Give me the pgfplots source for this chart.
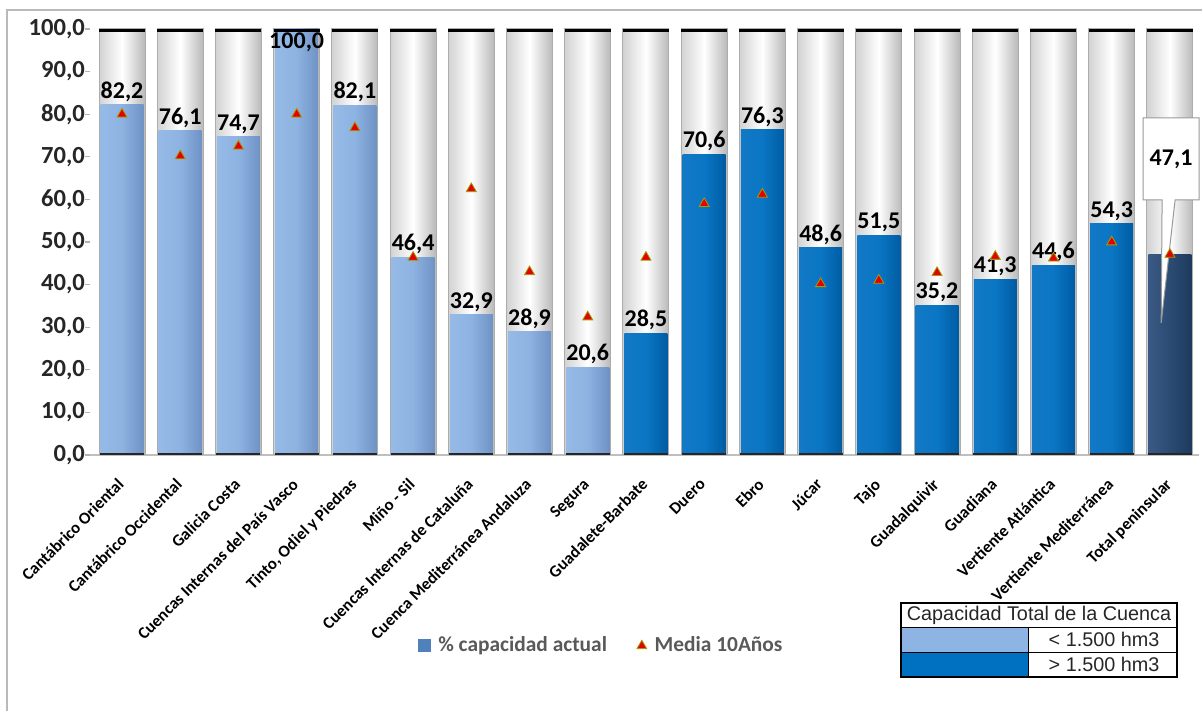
\documentclass[border=0pt]{standalone}
\usepackage{fontspec}
\setmainfont{Carlito}
\newfontfamily\arialf{Liberation Sans}
\usepackage{pgfplots}
\pgfplotsset{compat=1.18}
\usetikzlibrary{shapes.callouts}
\definecolor{lbL}{HTML}{96BAE6}
\definecolor{lbM}{HTML}{8DB3E2}
\definecolor{lbR}{HTML}{6E92C4}
\definecolor{dbL}{HTML}{1279C6}
\definecolor{dbM}{HTML}{0A76C4}
\definecolor{dbR}{HTML}{005CA3}
\definecolor{nvL}{HTML}{3A5A85}
\definecolor{nvM}{HTML}{2C4B73}
\definecolor{nvR}{HTML}{1E3A5E}
\definecolor{legblue}{HTML}{4F81BD}
\definecolor{tablight}{HTML}{8DB4E2}
\definecolor{tabdark}{HTML}{0070C0}
\definecolor{txtgray}{HTML}{595959}
\definecolor{tickc}{HTML}{262626}
\pgfkeys{/pgf/number format/assume math mode=true}
\pgfplotsset{
  lab/.style={nodes near coords={\pgfmathprintnumber[fixed,fixed zerofill,precision=1,use comma]{\pgfplotspointmeta}},
    every node near coord/.append style={font=\bfseries\fontsize{12}{13}\selectfont, text=black, inner sep=1.5pt}},
}
\newcommand{\tube}[1]{\addplot[ybar, bar width=23pt, bar shift=0pt, draw=gray!65, line width=0.5pt,
  left color=gray!35, right color=gray!55, middle color=white, forget plot] coordinates {(#1,100)};}
\newcommand{\vbar}[4]{\addplot[ybar, bar width=21.5pt, bar shift=0pt, draw=none,
  left color=#3L, right color=#3R, middle color=#3M, forget plot, #4] coordinates {(#1,#2)};}
\begin{document}
\begin{tikzpicture}
\path[use as bounding box] (0pt,0pt) rectangle (601pt,355.5pt);
\draw[gray!55, line width=0.8pt] (3.5pt,0pt) -- (3.5pt,350.5pt) -- (601pt,350.5pt);
\begin{axis}[
  at={(45pt,128pt)}, anchor=south west,
  width=554.5pt, height=213pt, scale only axis,
  xmin=-0.55, xmax=18.5, ymin=0, ymax=100,
  axis lines*=left,
  y axis line style={draw=none},
  x axis line style={draw=gray!50, line width=0.6pt},
  ytick={0,10,...,100},
  ytick style={draw=gray!60, line width=0.6pt},
  tick align=outside,
  major tick length=2.5pt,
  yticklabel style={font=\bfseries\fontsize{12.3}{13}\selectfont, text=tickc, xshift=3.5pt,
     /pgf/number format/.cd, fixed, fixed zerofill, precision=1, use comma},
  xtick={0,...,18},
  xtick style={draw=none},
  xticklabels={Cantábrico Oriental, Cantábrico Occidental, Galicia Costa, Cuencas Internas del País Vasco, {Tinto, Odiel y Piedras}, Miño - Sil, Cuencas Internas de Cataluña, Cuenca Mediterránea Andaluza, Segura, Guadalete-Barbate, Duero, Ebro, Júcar, Tajo, Guadalquivir, Guadiana, Vertiente Atlántica, Vertiente Mediterránea, Total peninsular},
  xticklabel style={rotate=45, anchor=north east, font=\bfseries\fontsize{8.4}{10}\selectfont, inner sep=1pt, xshift=-7pt, yshift=-3pt},
  clip=false,
  legend style={at={(0.462,-0.448)}, anchor=center, draw=none, fill=none, legend columns=2,
     font=\bfseries\fontsize{10.7}{12}\selectfont, text=txtgray,
     /tikz/every odd column/.append style={column sep=2pt},
     /tikz/every even column/.append style={column sep=13pt}},
  legend cell align=left,
]
% background gray tubes
\pgfplotsinvokeforeach{0,...,18}{\tube{#1}}
% light blue (< 1.500 hm3)
\vbar{0}{82.2}{lb}{lab}
\vbar{1}{76.1}{lb}{lab}
\vbar{2}{74.7}{lb}{lab}
\vbar{3}{100.0}{lb}{lab, every node near coord/.append style={anchor=north}}
\vbar{4}{82.1}{lb}{lab}
\vbar{5}{46.4}{lb}{lab}
\vbar{6}{32.9}{lb}{lab}
\vbar{7}{28.9}{lb}{lab}
\vbar{8}{20.6}{lb}{lab}
% dark blue (> 1.500 hm3)
\vbar{9}{28.5}{db}{lab}
\vbar{10}{70.6}{db}{lab}
\vbar{11}{76.3}{db}{lab}
\vbar{12}{48.6}{db}{lab}
\vbar{13}{51.5}{db}{lab}
\vbar{14}{35.2}{db}{lab}
\vbar{15}{41.3}{db}{lab}
\vbar{16}{44.6}{db}{lab}
\vbar{17}{54.3}{db}{lab}
% total
\vbar{18}{47.1}{nv}{}
% black caps
\addplot[only marks, mark=-, mark size=11.5pt, mark options={line width=1.6pt, black}, forget plot]
  coordinates {(0,99.6)(1,99.6)(2,99.6)(3,99.6)(4,99.6)(5,99.6)(6,99.6)(7,99.6)(8,99.6)(9,99.6)(10,99.6)(11,99.6)(12,99.6)(13,99.6)(14,99.6)(15,99.6)(16,99.6)(17,99.6)(18,99.6)};
\addplot[only marks, mark=-, mark size=11pt, mark options={line width=1.2pt, black!85}, forget plot]
  coordinates {(0,0.3)(1,0.3)(2,0.3)(3,0.3)(4,0.3)(5,0.3)(6,0.3)(7,0.3)(8,0.3)(9,0.3)(10,0.3)(11,0.3)(12,0.3)(13,0.3)(14,0.3)(15,0.3)(16,0.3)(17,0.3)(18,0.3)};
% callout for total
\node[rectangle callout, draw=gray!80, fill=white, line width=0.5pt, minimum width=26.5pt, minimum height=41pt,
  callout absolute pointer={(axis cs:17.85,31)}, callout pointer width=6.5pt,
  font=\bfseries\fontsize{12}{13}\selectfont] at (axis cs:18.02,69.5) {47,1};
% media 10 años
\addplot[only marks, mark=triangle*, mark size=2.9pt, mark options={fill=red!90!black, draw=olive!80!yellow, line width=0.4pt}, forget plot]
  coordinates {(0,80.0)(1,70.2)(2,72.5)(3,80.0)(4,76.8)(5,46.4)(6,62.5)(7,43.0)(8,32.4)(9,46.4)(10,59.0)(11,61.2)(12,40.2)(13,41.0)(14,42.8)(15,46.6)(16,46.2)(17,50.0)(18,47.1)};
\addlegendimage{only marks, mark=square*, mark size=3pt, mark options={fill=legblue, draw=legblue}}
\addlegendentry{\% capacidad actual}
\addlegendimage{only marks, mark=triangle*, mark size=2.8pt, mark options={fill=red!90!black, draw=olive!80!yellow}}
\addlegendentry{Media 10Años}
\end{axis}
% table: Capacidad Total de la Cuenca
\fill[tablight] (450.5pt,29.5pt) rectangle (514pt,41.65pt);
\fill[tabdark] (450.5pt,17.15pt) rectangle (514pt,29.5pt);
\draw[black, line width=0.5pt] (450.5pt,41.65pt) -- (588.5pt,41.65pt);
\draw[black, line width=0.5pt] (450.5pt,29.5pt) -- (588.5pt,29.5pt);
\draw[black, line width=0.5pt] (514pt,17.15pt) -- (514pt,41.65pt);
\draw[black, line width=0.9pt] (450.5pt,17.15pt) rectangle (588.5pt,54pt);
\node[font=\arialf\fontsize{9.9}{11}\selectfont, text=black!85] at (519.5pt,47.8pt) {Capacidad Total de la Cuenca};
\node[font=\arialf\fontsize{9.9}{11}\selectfont, text=black!85] at (552pt,35.6pt) {< 1.500 hm3};
\node[font=\arialf\fontsize{9.9}{11}\selectfont, text=black!85] at (552pt,23.3pt) {> 1.500 hm3};
\end{tikzpicture}
\end{document}
